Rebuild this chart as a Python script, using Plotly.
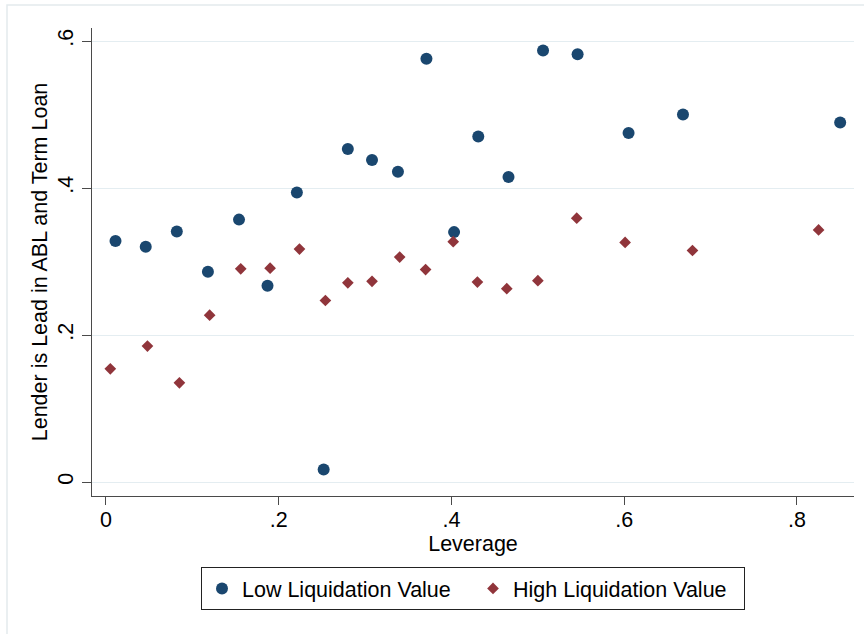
import plotly.graph_objects as go

# Data
low_x = [0.011, 0.046, 0.082, 0.118, 0.154, 0.187, 0.221, 0.252, 0.280, 0.308,
         0.338, 0.371, 0.403, 0.431, 0.466, 0.506, 0.546, 0.605, 0.668, 0.850]
low_y = [0.328, 0.320, 0.341, 0.286, 0.357, 0.267, 0.394, 0.017, 0.453, 0.438,
         0.422, 0.576, 0.340, 0.470, 0.415, 0.587, 0.582, 0.475, 0.500, 0.489]

high_x = [0.005, 0.048, 0.085, 0.120, 0.156, 0.190, 0.224, 0.254, 0.280, 0.308,
          0.340, 0.370, 0.402, 0.430, 0.464, 0.500, 0.545, 0.601, 0.679, 0.825]
high_y = [0.154, 0.185, 0.135, 0.227, 0.290, 0.291, 0.317, 0.247, 0.271, 0.273,
          0.306, 0.289, 0.327, 0.272, 0.263, 0.274, 0.359, 0.326, 0.315, 0.343]

x_tickvals = [0, 0.2, 0.4, 0.6, 0.8]
x_ticktext = ["0", ".2", ".4", ".6", ".8"]
y_tickvals = [0, 0.2, 0.4, 0.6]
y_ticktext = ["0", ".2", ".4", ".6"]

FONT = "Liberation Sans, Arial, sans-serif"
FS = 21.5
NAVY = "#1a476f"
MAROON = "#90353b"
AXIS = "#4a4a4a"
GRID = "#e4edf1"

fig = go.Figure()
fig.add_trace(go.Scatter(
    x=low_x, y=low_y, mode="markers", name="Low Liquidation Value",
    marker=dict(symbol="circle", size=12, color=NAVY, line=dict(width=0)),
))
fig.add_trace(go.Scatter(
    x=high_x, y=high_y, mode="markers", name="High Liquidation Value",
    marker=dict(symbol="diamond", size=9, color=MAROON, line=dict(width=0)),
))

W, H = 864, 634
L, R, T, B = 92, 10, 28, 138
pw, ph = W - L - R, H - T - B

def px_x(p):
    return (p - L) / pw

def px_y(p):
    return (H - B - p) / ph

fig.update_layout(
    width=W, height=H,
    margin=dict(l=L, r=R, t=T, b=B, autoexpand=False),
    paper_bgcolor="white", plot_bgcolor="white",
    font=dict(family=FONT, size=FS, color="black"),
    showlegend=True,
    legend=dict(
        orientation="h", xanchor="center", x=0.5, yanchor="top", y=px_y(567),
        bordercolor="#222222", borderwidth=1,
        font=dict(family=FONT, size=FS, color="black"),
        entrywidth=226, entrywidthmode="pixels",
        itemsizing="trace",
    ),
    xaxis=dict(
        range=[-0.0162, 0.866], tickmode="array", tickvals=x_tickvals, ticktext=x_ticktext,
        showgrid=False, zeroline=False, showline=True, linecolor=AXIS, linewidth=1.3,
        ticks="outside", ticklen=8, tickcolor=AXIS, tickwidth=1.2, ticklabelstandoff=-4,
        tickfont=dict(family=FONT, size=FS, color="black"),
        title=dict(text="Leverage", font=dict(family=FONT, size=FS, color="black"), standoff=2),
    ),
    yaxis=dict(
        range=[-0.019, 0.6177], tickmode="array", tickvals=y_tickvals, ticktext=y_ticktext,
        showgrid=True, gridcolor=GRID, gridwidth=1.4, zeroline=False,
        showline=True, linecolor=AXIS, linewidth=1.3,
        ticks="outside", ticklen=9, tickcolor=AXIS, tickwidth=1.2, tickangle=-90,
        tickfont=dict(family=FONT, size=FS, color="black"),
        title=dict(text="Lender is Lead in ABL and Term Loan",
                   font=dict(family=FONT, size=FS, color="black"), standoff=0),
    ),
    shapes=[dict(
        type="rect", xref="paper", yref="paper",
        x0=px_x(7), x1=px_x(880), y0=px_y(5), y1=px_y(650),
        line=dict(color="#e3eaed", width=1.5), fillcolor="rgba(0,0,0,0)", layer="below",
    )],
)

fig.write_html("out.html")
